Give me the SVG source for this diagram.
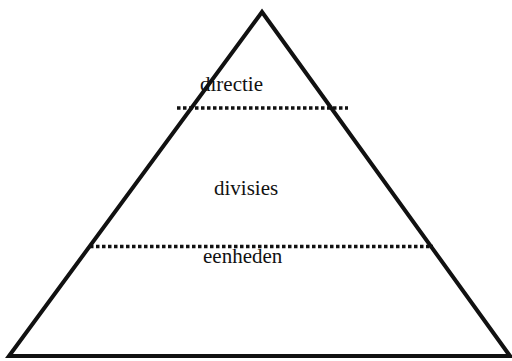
<svg xmlns="http://www.w3.org/2000/svg" width="512" height="361" viewBox="0 0 512 361">
<style>
.lbl{font-family:"Liberation Serif","Times New Roman",serif;font-size:21px;fill:#111}
.dot{stroke:#111;stroke-width:3.5;stroke-dasharray:3.5 2.5;fill:none}
</style>
<rect width="512" height="361" fill="#fff"/>
<g id="pyramid">
<path d="M262,12 L9,356 L510,356 Z" fill="none" stroke="#111" stroke-width="4" stroke-linejoin="miter"/>
</g>
<g id="connectors">
<line class="dot" x1="177" y1="108" x2="348" y2="108"/>
<line class="dot" x1="90" y1="246.5" x2="433" y2="246.5"/>
</g>
<g id="directie"><text class="lbl" x="200" y="91">directie</text></g>
<g id="divisies"><text class="lbl" x="214" y="195">divisies</text></g>
<g id="eenheden"><text class="lbl" x="203" y="263">eenheden</text></g>
</svg>
